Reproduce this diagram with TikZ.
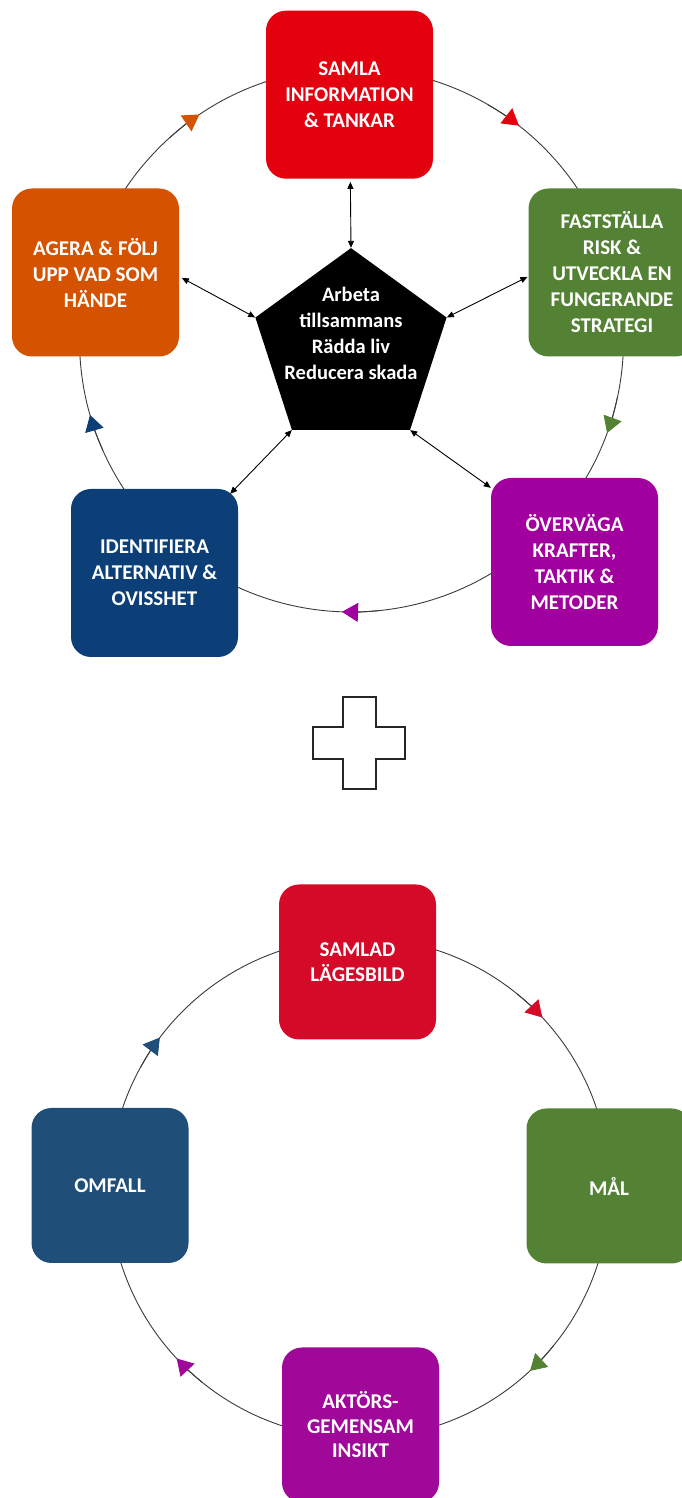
\documentclass[tikz,border=0pt]{standalone}
\usepackage{fontspec}
\setmainfont{Carlito}
\usetikzlibrary{arrows.meta,shapes.geometric}
\definecolor{samlared}{HTML}{E3000F}
\definecolor{riskgreen}{HTML}{548235}
\definecolor{metodpurple}{HTML}{A2009E}
\definecolor{ovissblue}{HTML}{0C3F77}
\definecolor{ageraorange}{HTML}{D45200}
\definecolor{bildred}{HTML}{D40A28}
\definecolor{malgreen}{HTML}{548235}
\definecolor{insiktpurple}{HTML}{A0089A}
\definecolor{omfallblue}{HTML}{1F4E79}
\definecolor{ringgray}{HTML}{3A3A3A}
\begin{document}
\begin{tikzpicture}[x=1pt, y=1pt,
  phase/.style={rounded corners=20pt, minimum width=167pt, minimum height=168pt, inner sep=0pt,
    text=white, align=center, font=\bfseries\fontsize{21}{26}\selectfont},
  focus/.style={phase, minimum width=157pt, minimum height=155pt, font=\bfseries\fontsize{21}{24.5}\selectfont},
  ring/.style={draw=ringgray, line width=0.9pt},
  link/.style={line width=0.9pt, {Triangle[length=7pt,width=6pt]}-{Triangle[length=7pt,width=6pt]}},
  goal/.style={align=center, text=white, font=\bfseries\fontsize{20.5}{26}\selectfont}]
  \useasboundingbox (0,0) rectangle (681,1498);

  \coordinate (ring1) at (351.5,1158);
  \draw [ring] (ring1) circle [radius=272];
  \foreach \a/\c in {54/samlared, -18/riskgreen, -90/metodpurple, -162/ovissblue, 126/ageraorange}
    \draw [ring, -{Triangle[length=16pt,width=19pt,color=\c]}] (ring1) ++(\a+6:272) arc [start angle=\a+6, end angle=\a-2, radius=272];

  \node [phase, fill=samlared] (samla) at (349.5,1403.3) {SAMLA\\INFORMATION\\\& TANKAR};
  \node [phase, fill=riskgreen] (faststalla) at (612,1225.5) {FASTSTÄLLA\\RISK \&\\UTVECKLA EN\\FUNGERANDE\\STRATEGI};
  \node [phase, fill=metodpurple] (overvaga) at (574.5,936) {ÖVERVÄGA\\KRAFTER,\\TAKTIK \&\\METODER};
  \node [phase, fill=ovissblue] (identifiera) at (154.5,925) {IDENTIFIERA\\ALTERNATIV \&\\OVISSHET};
  \node [phase, fill=ageraorange] (agera) at (95.5,1225.5) {AGERA \& FÖLJ\\UPP VAD SOM\\HÄNDE};

  \node [regular polygon, regular polygon sides=5, minimum size=201pt, inner sep=0pt, fill=black] (hub) at (351,1149.4) {};
  \node [goal] (hubtext) at (351,1164.5) {Arbeta\\tillsammans\\Rädda liv\\Reducera skada};

  \draw [link, shorten <=3pt] (samla) -- (hub.corner 1);
  \draw [link, shorten <=3pt] ([yshift=-4pt]agera.east) -- (hub.corner 2);
  \draw [link, shorten <=1pt] ([yshift=-4pt]faststalla.west) -- (hub.corner 5);
  \draw [link] (hub.corner 3) -- ([xshift=-8pt,yshift=-5pt]identifiera.north east);
  \draw [link] (hub.corner 4) -- ([yshift=-10pt]overvaga.north west);

  \draw [line width=2pt, draw=black!85] (342.5,801) -- ++(33,0) -- ++(0,-30) -- ++(29.5,0) -- ++(0,-32)
    -- ++(-29.5,0) -- ++(0,-30) -- ++(-33,0) -- ++(0,30) -- ++(-29.5,0) -- ++(0,32) -- ++(29.5,0) -- cycle;

  \coordinate (ring2) at (359.5,310);
  \draw [ring] (ring2) circle [radius=250];
  \foreach \a/\c in {45/bildred, -45/malgreen, -135/insiktpurple, 145/omfallblue}
    \draw [ring, -{Triangle[length=16pt,width=19pt,color=\c]}] (ring2) ++(\a+6:250) arc [start angle=\a+6, end angle=\a-2, radius=250];

  \node [focus, fill=bildred] (lagesbild) at (357.5,536) {SAMLAD\\LÄGESBILD};
  \node [focus, fill=malgreen, minimum width=165pt] (mal) at (609,312) {MÅL};
  \node [focus, fill=insiktpurple] (insikt) at (360.5,73) {AKTÖRS-\\GEMENSAM\\INSIKT};
  \node [focus, fill=omfallblue] (omfall) at (110,312.5) {OMFALL};
\end{tikzpicture}
\end{document}
